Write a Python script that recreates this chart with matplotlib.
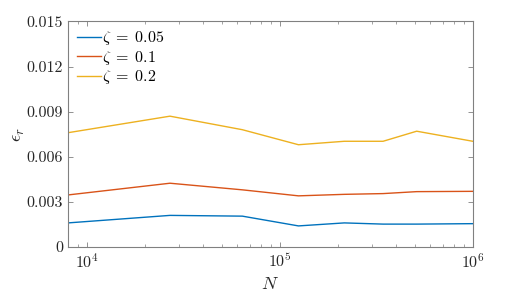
import numpy as np
import matplotlib
matplotlib.use("Agg")
import matplotlib.pyplot as plt
from matplotlib.ticker import LogLocator, NullFormatter

plt.rcParams["mathtext.fontset"] = "cm"
plt.rcParams["font.family"] = "serif"
plt.rcParams["font.serif"] = ["cmr10", "DejaVu Serif"]
plt.rcParams["axes.formatter.use_mathtext"] = True

# ===== Data =====
N = [8000, 27000, 64000, 125000, 216000, 343000, 512000, 1000000]
zeta_labels = [r"$\zeta\;=\;0.05$", r"$\zeta\;=\;0.1$", r"$\zeta\;=\;0.2$"]
err_005 = [0.0016, 0.0021, 0.00205, 0.0014, 0.0016, 0.00152, 0.00152, 0.00155]
err_01 = [0.00346, 0.00424, 0.0038, 0.0034, 0.0035, 0.00355, 0.00368, 0.0037]
err_02 = [0.0076, 0.0087, 0.0078, 0.0068, 0.00703, 0.00703, 0.0077, 0.00703]
yticks = [0, 0.003, 0.006, 0.009, 0.012, 0.015]
ytick_labels = ["0", "0.003", "0.006", "0.009", "0.012", "0.015"]

colors = ["#0072BD", "#D95319", "#EDB120"]
axcol = "#808080"

# ===== Plot =====
fig = plt.figure(figsize=(5.23, 2.94), dpi=100)
ax = fig.add_axes([0.130, 0.160, 0.774, 0.767])

for y, lab, c in zip([err_005, err_01, err_02], zeta_labels, colors):
    ax.plot(N, y, color=c, lw=1.0, label=lab)

ax.set_xscale("log")
ax.set_xlim(8000, 1e6)
ax.set_ylim(0, 0.015)
ax.set_yticks(yticks)
ax.set_yticklabels(ytick_labels)
ax.xaxis.set_major_locator(LogLocator(base=10, numticks=10))
ax.xaxis.set_minor_locator(LogLocator(base=10, subs=np.arange(2, 10), numticks=20))
ax.xaxis.set_minor_formatter(NullFormatter())

ax.tick_params(which="both", direction="in", top=True, right=True, colors=axcol,
               labelcolor="#262626", labelsize=11.5)
ax.tick_params(which="major", length=3.5, width=0.6)
ax.tick_params(which="minor", length=2, width=0.5)
for s in ax.spines.values():
    s.set_color(axcol)
    s.set_linewidth(0.8)

ax.set_xlabel(r"$N$", fontsize=13, color="#262626", labelpad=4)
ax.set_ylabel(r"$\epsilon_r$", fontsize=13, color="#262626", labelpad=0)

ax.legend(loc="upper left", frameon=False, fontsize=11.5, handlelength=1.5,
          handletextpad=0.1, borderaxespad=0.0, borderpad=0.3, labelspacing=0.1,
          bbox_to_anchor=(0.01, 0.987))

fig.savefig("out.png", dpi=100)
